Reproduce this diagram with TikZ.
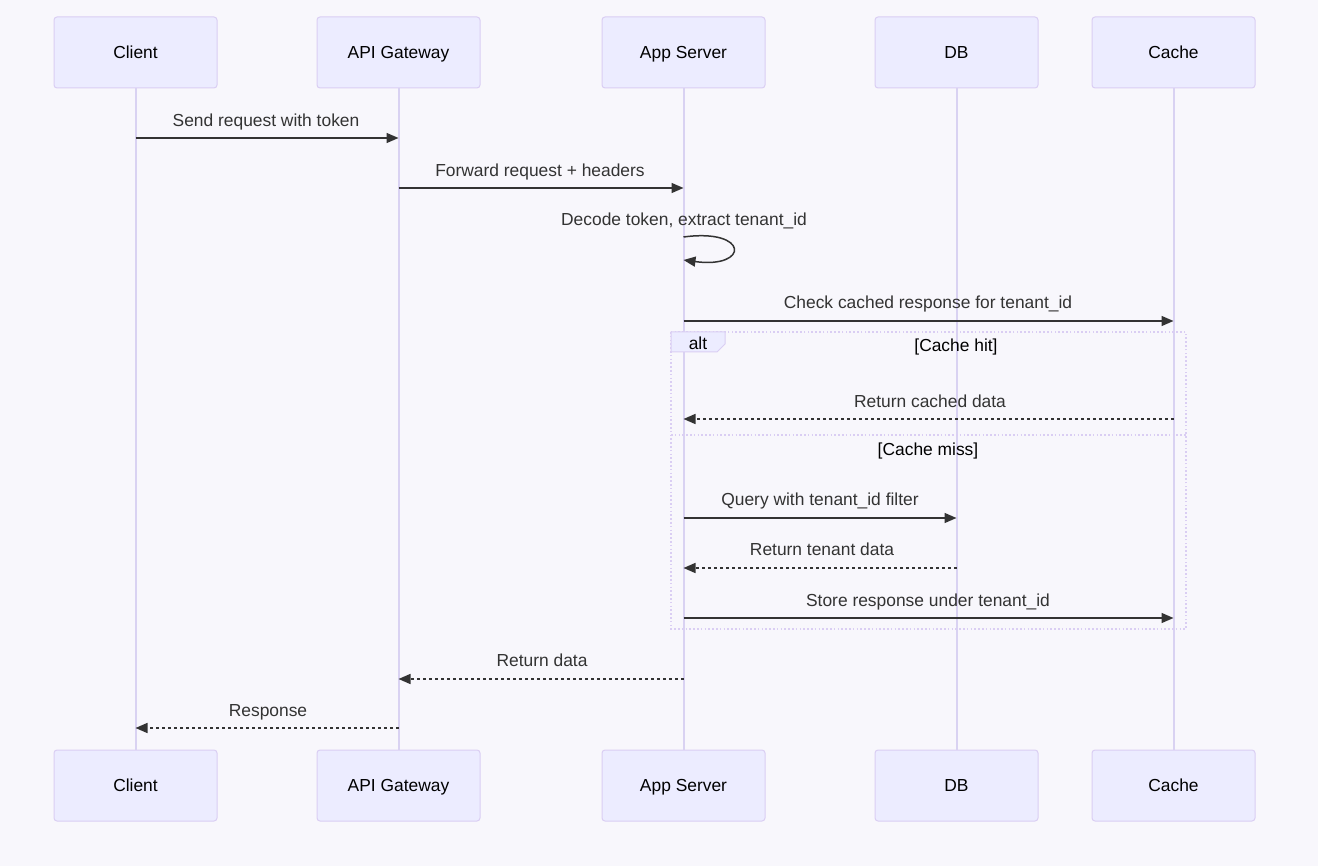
\documentclass[tikz,border=0pt]{standalone}
\usepackage{fontspec}
\setmainfont{Liberation Sans}
\usetikzlibrary{arrows.meta}
\definecolor{bgc}{HTML}{F8F7FC}
\definecolor{actfill}{HTML}{ECECFF}
\definecolor{actline}{HTML}{DACEF3}
\definecolor{lifec}{HTML}{D9D2F2}
\definecolor{ink}{HTML}{333333}
\tikzset{
  txt/.style={font=\fontsize{17.4}{20}\selectfont, text height=12.4pt, text depth=0pt},
  actor/.style={txt, draw=actline, fill=actfill, line width=1pt, rounded corners=3pt,
    minimum width=163, minimum height=71, inner sep=0pt, text=black},
  lifeline/.style={draw=lifec, line width=2pt},
  msg/.style={draw=ink, line width=1.5pt, -{Triangle[length=12,width=10]}},
  reply/.style={msg, dash pattern=on 3pt off 3pt},
  lbl/.style={txt, text=ink, inner sep=0pt},
  framebox/.style={draw=actline, line width=1.6pt, dash pattern=on 1.6pt off 2.2pt},
}
\begin{document}
\begin{tikzpicture}[x=1pt,y=-1pt]
\useasboundingbox (0,0) rectangle (1318,866);
\fill[bgc] (0,0) rectangle (1318,866);

% participants (top and bottom)
\node[actor] (cT) at (135.5,52.5) {Client};
\node[actor] (gT) at (398.5,52.5) {API Gateway};
\node[actor] (aT) at (683.5,52.5) {App Server};
\node[actor] (dT) at (956.5,52.5) {DB};
\node[actor] (kT) at (1173.5,52.5) {Cache};
\node[actor] (cB) at (135.5,785.5) {Client};
\node[actor] (gB) at (398.5,785.5) {API Gateway};
\node[actor] (aB) at (683.5,785.5) {App Server};
\node[actor] (dB) at (956.5,785.5) {DB};
\node[actor] (kB) at (1173.5,785.5) {Cache};

% lifelines
\foreach \p in {c,g,a,d,k} \draw[lifeline] (\p T.south) -- (\p B.north);

% alt frame with its two sections
\draw[framebox] (671,332) rectangle (1186,629);
\draw[framebox] (671,435) -- (1186,435);
\draw[draw=actline, fill=actfill, line width=1pt] (671,332) -- (725,332) -- (725,344) -- (717,352) -- (671,352) -- cycle;
\node[lbl, text=black] (altlbl) at (698,343) {alt};
\node[lbl, text=black] (hit) at (956,345) {[Cache hit]};
\node[lbl, text=black] (miss) at (928,449) {[Cache miss]};

% messages
\draw[msg] (cT |- 0,138) -- (gT |- 0,138);
\node[lbl] (m1) at (266,120.5) {Send request with token};
\draw[msg] (gT |- 0,188) -- (aT |- 0,188);
\node[lbl] (m2) at (540,170) {Forward request + headers};
\coordinate (s1) at (aT |- 0,237);
\coordinate (s2) at (aT |- 0,260);
\draw[msg] (s1) .. controls +(66,-9) and +(66,9) .. (s2);
\node[lbl] (m3) at (684,219.5) {Decode token, extract tenant\_id};
\draw[msg] (aT |- 0,321) -- (kT |- 0,321);
\node[lbl] (m4) at (928,302.5) {Check cached response for tenant\_id};
\draw[reply] (kT |- 0,419) -- (aT |- 0,419);
\node[lbl] (m5) at (930,401.5) {Return cached data};
\draw[msg] (aT |- 0,518) -- (dT |- 0,518);
\node[lbl] (m6) at (820,499.5) {Query with tenant\_id filter};
\draw[reply] (dT |- 0,568) -- (aT |- 0,568);
\node[lbl] (m7) at (822,549.5) {Return tenant data};
\draw[msg] (aT |- 0,618) -- (kT |- 0,618);
\node[lbl] (m8) at (928,600) {Store response under tenant\_id};
\draw[reply] (aT |- 0,679) -- (gT |- 0,679);
\node[lbl] (m9) at (542,660.5) {Return data};
\draw[reply] (gT |- 0,728) -- (cT |- 0,728);
\node[lbl] (m10) at (268,710.5) {Response};
\end{tikzpicture}
\end{document}
